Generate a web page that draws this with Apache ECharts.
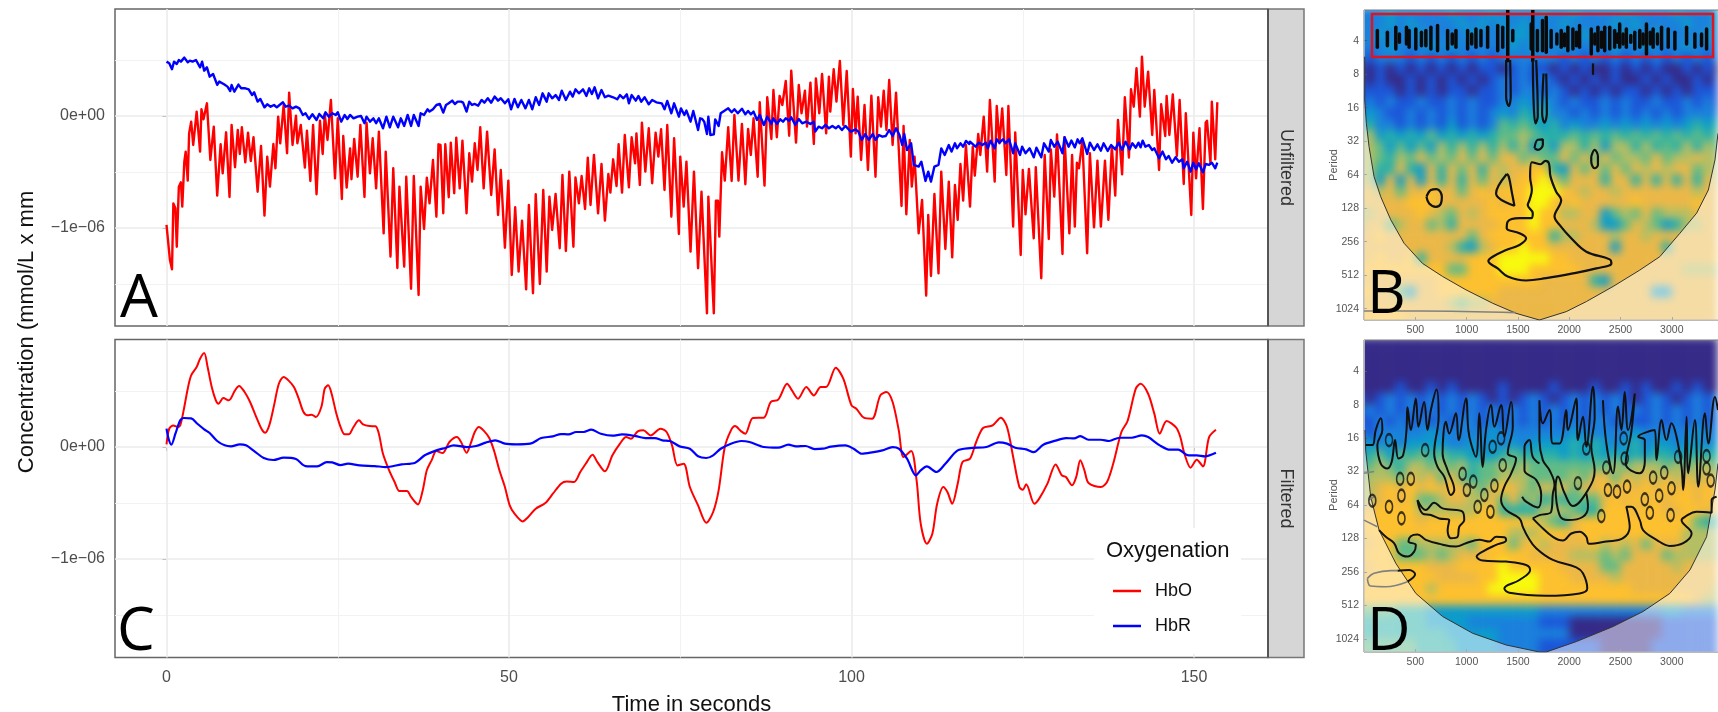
<!DOCTYPE html>
<html><head><meta charset="utf-8">
<style>
html,body{margin:0;padding:0;background:#fff;width:1718px;height:712px;overflow:hidden}
.clip{position:absolute;overflow:hidden}
.heat{position:absolute;left:-1364px;width:1718px;height:712px;filter:blur(4px)}
#main{position:absolute;left:0;top:0;width:1718px;height:712px}
</style>
<script src="https://cdn.jsdelivr.net/npm/echarts@6/dist/echarts.min.js"></script>
</head><body>
<div class="clip" style="left:1364px;top:10px;width:354px;height:310px"><div class="heat" id="heatB" style="top:-10px"></div></div>
<div class="clip" style="left:1364px;top:340px;width:354px;height:312px"><div class="heat" id="heatD" style="top:-340px"></div></div>
<div id="main"></div>
<script>
// Concentrations in units of 1e-9 mmol/L x mm, time in seconds: [t, value]
const hboUnfiltered = [[0,-973],[0.2,-958],[0.5,-1286],[0.8,-1369],[1,-780],[1.3,-824],[1.5,-1167],[1.8,-631],[2.1,-592],[2.3,-809],[2.6,-408],[2.8,-318],[3.1,-577],[3.3,-155],[3.6,-51],[3.9,-259],[4.4,39],[4.9,-318],[5.1,60],[5.4,-30],[5.6,-21],[5.9,113],[6.4,-393],[6.9,-95],[7.4,-711],[7.9,-253],[8.2,-512],[8.7,-146],[9.2,-723],[9.5,-80],[10,-458],[10.4,-125],[10.7,-339],[11,-101],[11.5,-414],[11.9,-149],[12.3,-402],[12.7,-190],[13.3,-676],[13.8,-268],[14.3,-890],[14.7,-363],[15.1,-631],[15.6,-250],[15.9,-467],[16.3,-6],[16.6,-244],[17.1,98],[17.6,-333],[17.9,208],[18.4,-259],[18.9,3],[19.1,-244],[19.6,-80],[20.2,-461],[20.5,-131],[21,-580],[21.4,-80],[21.9,-699],[22.4,-42],[22.8,-339],[23.1,18],[23.5,-214],[24,143],[24.6,-557],[25,-21],[25.6,-741],[25.8,-179],[26.3,-640],[26.8,-289],[27,-565],[27.4,-205],[27.9,-542],[28.3,-80],[28.9,-723],[29.2,-60],[29.7,-512],[30.1,-199],[30.6,-646],[31,-140],[31.7,-1048],[32,-318],[32.7,-1256],[33.1,-467],[33.7,-1357],[34,-631],[34.7,-1345],[35,-542],[35.7,-1542],[36.1,-536],[36.8,-1598],[37.1,-631],[37.6,-1009],[38,-551],
[38.4,-780],[38.9,-393],[39.4,-899],[39.7,-253],[40,-259],[40.4,-869],[40.7,-253],[41.2,-726],[41.5,-238],[42,-690],[42.3,-193],[42.8,-646],[43.2,-220],[43.8,-869],[44.2,-333],[44.3,-318],[44.6,-586],[45,-244],[45.4,-482],[45.8,-101],[46.3,-646],[46.8,-140],[47.4,-705],[47.9,-298],[48.4,-884],[48.8,-482],[49.4,-1176],[49.9,-577],[50.4,-1420],[50.9,-815],[51.4,-1390],[51.9,-934],[52.5,-1548],[52.9,-795],[53.5,-1583],[53.9,-699],[54.1,-699],[54.5,-1500],[55,-661],[55.5,-1390],[55.9,-720],[56.3,-1018],[56.8,-696],[57.4,-1181],[57.8,-527],[58.3,-1205],[58.8,-497],[59.4,-1167],[59.7,-548],[60.2,-780],[60.6,-536],[61.1,-830],[61.5,-372],[61.9,-795],[62.4,-348],[63,-869],[63.5,-429],[64,-934],[64.5,-518],[64.8,-684],[65.2,-387],[65.7,-625],[66,-253],[66.5,-684],[66.9,-170],[67.5,-637],[67.9,-190],[68.4,-423],[68.6,-155],[69.1,-616],[69.4,-60],[69.9,-497],[70.4,-110],[70.9,-601],[71.4,-149],[71.8,-363],[72.2,-119],[72.7,-661],[73.1,-80],[73.7,-899],[74.1,-199],[74.8,-1054],[75,-363],[75.5,-809],[75.9,-408],[76.5,-1211],[77,-497],[77.6,-1360],
[78.1,-676],[78.9,-1762],[79.1,-720],[79.9,-1762],[80.2,-756],[80.5,-756],[80.7,-1077],[81.1,-324],[81.5,-577],[82,-101],[82.5,-580],[82.9,9],[83.5,-577],[84,-71],[84.5,-610],[84.9,-116],[85.3,-348],[85.7,-21],[86.3,-542],[86.6,122],[87.3,-622],[87.7,167],[87.9,167],[88.3,-205],[88.6,232],[89.1,-190],[89.5,179],[89.9,98],[90.4,312],[90.9,-176],[91.2,405],[91.9,-238],[92.3,277],[92.7,24],[93.2,226],[93.5,-95],[94,298],[94.5,-250],[94.8,336],[95.3,24],[95.7,375],[96.3,-155],[96.7,351],[96.9,39],[97.4,417],[97.8,128],[98.3,491],[98.8,-80],[99.3,402],[99.9,-363],[100.2,241],[100.6,-155],[100.9,173],[101.4,-393],[101.9,98],[102.4,-482],[102.9,182],[103.5,-542],[103.9,167],[104.3,-95],[104.7,226],[105.1,-125],[105.5,321],[106,-259],[106.5,208],[107.3,-804],[107.6,-89],[108,-878],[108.5,-214],[108.8,-631],[109.2,-363],[109.8,-1048],[110.3,-750],[110.9,-1604],[111.2,-884],[111.6,-1428],[112.1,-696],[112.7,-1405],[113.1,-497],[113.7,-1188],[114.2,-586],[114.7,-1262],[115.1,-616],[115.5,-928],[115.9,-429],[116.3,-756],[116.7,-259],[117.3,-809],
[117.7,-274],[118,-533],[118.5,-161],[118.8,-348],[119.3,-6],[119.8,-497],[120.2,143],[120.9,-586],[121.2,89],[121.6,-244],[122,68],[122.6,-527],[122.9,89],[123.6,-988],[123.9,-146],[124.7,-1241],[125,-482],[125.4,-878],[125.9,-473],[126.6,-1092],[126.9,-458],[127.7,-1449],[128.2,-348],[128.8,-1098],[129.1,-298],[129.6,-720],[130,-164],[130.8,-1232],[131.1,-190],[131.8,-1048],[132.2,-348],[132.6,-988],[132.9,-417],[133.2,-467],[133.7,-214],[134.4,-1226],[134.8,-333],[135.4,-994],[135.9,-399],[136.4,-988],[137,-399],[137.5,-928],[138,-274],[138.5,-711],[138.9,-36],[139.5,-521],[139.9,167],[140.5,-372],[140.8,238],[141.2,83],[141.6,426],[142.1,-6],[142.4,530],[142.8,83],[143.3,396],[143.9,-170],[144.2,232],[144.9,-482],[145.2,104],[145.8,-179],[146,179],[146.4,-170],[146.9,193],[147.5,-357],[147.9,143],[148.5,-607],[148.8,24],[149.6,-884],[149.9,-149],[150.3,-557],[150.8,-110],[151.3,-830],[151.7,-60],[151.9,-42],[152.4,-423],[152.6,128],[153.1,-387],[153.4,122]];
const hbrUnfiltered = [[0,485],[0.4,470],[0.8,417],[1.1,485],[1.5,464],[1.8,500],[2.1,485],[2.6,521],[3.1,479],[3.4,494],[3.8,485],[4.3,500],[4.9,434],[5.2,485],[5.5,405],[5.9,434],[6.3,351],[6.8,375],[7.4,277],[7.7,307],[8.4,283],[8.9,262],[9.3,223],[9.5,277],[9.9,217],[10.5,280],[10.9,247],[11.5,247],[12,238],[12.5,187],[12.8,211],[13.3,128],[13.7,152],[14.3,77],[14.7,104],[15.2,83],[15.7,98],[16.1,77],[16.5,98],[17,122],[17.4,83],[17.9,92],[18.4,68],[18.9,83],[19.4,68],[19.9,9],[20.3,24],[20.8,-27],[21.3,15],[21.9,-36],[22.3,18],[22.9,-21],[23.2,33],[23.7,-6],[24.2,24],[24.7,9],[25,33],[25.5,-51],[26,9],[26.4,-27],[26.8,9],[27.3,-21],[27.9,-6],[28.4,0],[28.9,-65],[29.2,-6],[29.7,-51],[30.2,-21],[30.6,-65],[31,-21],[31.6,-110],[32.1,-6],[32.6,-101],[33.1,-6],[33.8,-101],[34.2,-21],[34.7,-89],[35.2,9],[35.7,-89],[36.1,9],[36.8,-89],[37.1,24],[37.6,9],[38.1,60],
[38.4,39],[38.9,60],[39.4,98],[39.9,107],[40.4,30],[40.8,98],[41.2,113],[41.7,137],[42.1,107],[42.5,128],[43,128],[43.3,119],[43.8,39],[44.2,128],[44.6,98],[45,107],[45.5,92],[46,143],[46.4,119],[46.9,158],[47.4,119],[47.9,173],[48.4,137],[48.8,158],[49.4,113],[49.9,149],[50.3,60],[50.8,152],[51.3,77],[51.8,143],[52.4,68],[52.9,143],[53.4,60],[53.9,167],[54.4,98],[54.9,202],[55.5,128],[55.8,202],[56.3,158],[56.8,187],[57.3,143],[57.7,226],[58.3,143],[58.9,217],[59.3,173],[59.7,238],[60.2,202],[60.8,238],[61.3,179],[61.7,247],[62.1,196],[62.5,256],[63,158],[63.5,232],[64,167],[64.5,182],[65.2,167],[65.8,149],[66.2,187],[66.7,158],[67.2,193],[67.5,113],[67.9,187],[68.5,137],[68.9,179],[69.3,128],[69.8,167],[70.4,104],[70.9,143],[71.5,122],[72.3,113],[72.7,60],[73.1,134],[73.7,24],[74.1,113],[74.8,-6],[75.1,68],[75.6,9],[75.9,48],[76.5,-51],[76.9,45],[77.6,-125],
[77.9,-21],[78.2,-27],[78.5,-51],[78.9,-161],[79.1,-6],[79.4,-170],[79.9,-164],[80.1,-30],[80.6,-89],[80.9,24],[81.4,45],[82,68],[82.5,33],[82.9,60],[83.4,24],[84,65],[84.5,15],[84.9,45],[85.3,15],[85.7,39],[86.2,-36],[86.6,9],[87.2,-80],[87.7,-6],[88.3,-71],[88.6,-21],[89.1,-71],[89.6,-30],[90,-51],[90.4,-21],[90.9,-42],[91.2,-12],[91.8,-80],[92.3,-27],[92.8,-65],[93.4,-51],[94,-71],[94.5,-51],[94.7,-140],[95.2,-95],[95.7,-110],[96.2,-80],[96.7,-110],[97.2,-89],[97.7,-110],[98.1,-89],[98.6,-125],[99.1,-89],[99.9,-140],[100.6,-119],[101,-140],[101.5,-214],[102,-161],[102.5,-214],[103.1,-161],[103.5,-214],[104,-170],[104.5,-185],[105,-179],[105.5,-125],[106,-179],[106.5,-110],[107,-170],[107.4,-259],[107.7,-161],[108.1,-304],[108.7,-244],[109.1,-437],[109.8,-452],[110.2,-408],[110.8,-580],[111.2,-497],[111.6,-586],[112.1,-452],[112.7,-437],[113.1,-289],[113.6,-348],[114.2,-259],[114.6,-318],[115.1,-244],[115.4,-289],[115.9,-244],[116.3,-274],[116.7,-223],
[117.2,-250],[117.3,-229],[118.1,-274],[118.6,-238],[119.1,-259],[119.6,-238],[119.9,-289],[120.3,-220],[120.9,-289],[121.2,-208],[121.6,-238],[122.1,-208],[122.5,-244],[123,-208],[123.6,-333],[123.9,-244],[124.6,-348],[124.9,-274],[125.4,-333],[126,-289],[126.6,-369],[127,-283],[127.7,-369],[128.1,-244],[128.8,-318],[129.1,-214],[129.6,-274],[130.1,-229],[130.8,-333],[131.1,-190],[131.7,-274],[132.1,-220],[132.6,-280],[133,-208],[133.3,-244],[133.7,-199],[134.4,-339],[134.8,-238],[135.4,-304],[135.9,-253],[136.4,-310],[136.8,-244],[137.4,-312],[137.9,-259],[138.5,-298],[139,-238],[139.5,-304],[140,-229],[140.6,-298],[141,-244],[141.5,-283],[141.9,-238],[142.2,-280],[142.5,-220],[142.9,-274],[143.4,-259],[143.9,-304],[144.2,-289],[144.9,-378],[145.4,-318],[145.9,-387],[146.3,-357],[146.8,-417],[147.3,-369],[147.8,-408],[148.3,-387],[148.5,-467],[149,-408],[149.5,-497],[149.9,-417],[150.3,-476],[150.7,-423],[151.3,-503],[151.7,-429],[152.2,-437],[152.6,-417],[153.1,-467],[153.4,-417]];
const hboFiltered = [[0,24],[0.4,164],[1,193],[1.6,179],[2,193],[2.5,327],[3.1,521],[3.6,640],[4.4,714],[4.9,789],[5.5,839],[6,714],[6.6,536],[7.2,417],[7.6,387],[8.3,437],[9.1,417],[10,506],[10.6,545],[11.4,491],[12.2,402],[13,283],[13.9,158],[14.4,128],[15,193],[15.7,372],[16.4,565],[17.1,625],[17.8,595],[18.6,536],[19.3,432],[20,312],[20.6,283],[21.2,289],[21.8,268],[22.6,357],[23.1,521],[23.6,551],[24.1,476],[24.8,298],[25.5,164],[26,113],[26.6,113],[27.3,179],[28.1,238],[28.7,202],[29.6,187],[30.5,185],[31,119],[31.6,-60],[32.5,-208],[33.3,-312],[34,-393],[35.1,-393],[35.7,-446],[36.7,-512],[37.4,-387],[38,-208],[38.7,-119],[39.4,-36],[40.3,-54],[41.3,45],[42.4,89],[43,45],[43.8,-51],[44.4,30],[45,134],[45.6,179],[46.4,140],[47.1,83],[47.8,-30],[48.6,-208],[49.4,-357],[50.1,-521],[50.8,-595],[52,-664],[52.8,-625],[53.9,-551],[55.3,-500],[56.4,-417],[57.6,-327],[58.4,-307],[59.5,-312],[60.4,-223],[61.2,-149],[62.2,-68],[62.9,-134],[64,-217],[65.1,-74],[66.2,30],[67.1,89],[67.8,74],[68.8,140],[69.6,149],[70.7,104],[72.1,164],[73,134],[73.8,15],[74.6,-164],[75.5,-149],[76.4,-357],[77.6,-521],[78.8,-676],[79.8,-580],[80.6,-387],[81.5,0],[82.4,149],[83,187],[83.9,140],[84.5,119],[85.6,259],[87.2,262],[88.2,402],[89.3,423],[90.6,565],[91.3,506],[92.2,432],[93.4,536],[94.5,461],[95.5,536],[96.3,536],[97.7,708],[98.8,610],[100,372],[100.7,342],[101.8,262],[103,253],[104.2,461],[105.1,491],[106,402],[106.9,149],[107.6,-89],[108.7,-36],[109.5,-298],[110.1,-684],[111,-863],[111.8,-774],[112.5,-506],[113.4,-357],[114,-402],[114.7,-506],[115.5,-327],[116.2,-134],[117.3,-104],[118.2,45],[119.2,170],[120.6,193],[121.8,262],[122.7,179],[123.6,-89],[124.5,-357],[125,-381],[125.5,-333],[126.7,-506],[127.4,-461],[128.6,-327],[129.8,-155],[130.7,-253],[131.3,-268],[132.2,-342],[132.8,-268],[133.4,-119],[134,-208],[134.6,-321],[136.4,-357],[137.3,-312],[138.2,-149],[139.4,134],[140.3,232],[141.5,521],[142.2,565],[143.3,476],[144.2,298],[145,119],[146,232],[147.4,173],[148,89],[148.6,-60],[149.5,-185],[150.4,-113],[151.3,-173],[152.2,89],[153.2,155]];
const hbrFiltered = [[0,164],[0.3,74],[0.7,21],[1.3,119],[2,238],[2.5,259],[3.6,256],[4.5,208],[5.5,158],[6.3,125],[7.4,54],[8.5,15],[9.4,6],[10.7,24],[11.6,15],[12.8,-36],[14.2,-98],[15.6,-116],[17.1,-95],[18.9,-107],[20.3,-170],[22,-173],[23.4,-134],[24.2,-137],[25.4,-161],[26.5,-149],[28.2,-164],[30.4,-170],[32,-179],[34.3,-155],[36.3,-140],[37.7,-74],[39.4,-30],[40.8,-6],[41.9,15],[43.8,0],[45.2,9],[46.6,39],[48,60],[49.4,30],[51.1,24],[53.1,30],[54.7,80],[56.4,95],[57.6,116],[58.7,113],[59.8,134],[60.9,134],[62,155],[63.4,119],[65.1,101],[66.5,113],[68.5,98],[69.9,80],[71.3,80],[72.4,60],[73.5,54],[74.9,6],[76.4,-15],[77.6,-83],[78.8,-98],[79.8,-74],[80.9,-15],[82.4,30],[83.9,54],[85.1,45],[87.2,0],[89.3,-6],[90.8,21],[91.9,6],[93.3,9],[94.6,-18],[95.8,-15],[97,3],[99.1,15],[100.3,-15],[101.5,-60],[103,-48],[104.5,-30],[106,0],[106.9,-15],[108.1,-104],[109.4,-253],[110.1,-208],[111,-173],[112.4,-223],[113.7,-149],[115.5,-30],[117.3,-9],[119.7,0],[121.5,42],[122.7,30],[123.9,-6],[125.5,-21],[126.6,-45],[128,21],[129.8,57],[131.3,80],[132.5,77],[133.4,98],[134.6,65],[136.4,65],[137.6,54],[139.1,83],[140.9,83],[142.4,104],[143.3,89],[145,15],[146.5,-24],[147.7,-24],[149.2,-74],[150.4,-74],[151.6,-83],[153.2,-51]];

const xTicks = [0,50,100,150], xMinor = [25,75,125];
const yTicks = [-1000,0], yMinor = [-1500,-500,500];
const waveXTicks = [500,1000,1500,2000,2500,3000];
const wavePeriodTicks = [2,3,4,5,6,7,8,9,10]; // log2(period)
const parula = ['#352A87','#1B55D8','#1A80DC','#0C9BCB','#29B0A8','#62BB85','#B4BE62','#EBB848','#FDC02E','#F8FA0D'];

// Wavelet power, level 0-9, 36 time columns x 29 period rows (third-octave)
const powerB = [
"222322 222322 232222 322322 223222 232223",
"222323 222232 323232 223222 232322 223223",
"223222 322223 222332 322232 223223 222232",
"222322 232322 222323 223222 232232 223222",
"212221 212121 212222 221212 121212 121212",
"101010 101010 110121 101010 010101 001010",
"101001 010101 012121 210101 010010 100101",
"111101 010110 112122 121010 101101 010111",
"121211 211212 112232 321211 212112 112121",
"232112 121212 123243 422121 212121 212222",
"342212 121312 125454 342322 323232 323434",
"563434 353434 345565 444545 454545 454545",
"665353 536464 646463 536646 366464 546465",
"665465 756575 757756 557575 756657 566766",
"664474 374757 476778 843757 575767 677566",
"663737 374747 576788 975777 477474 747476",
"776757 787757 878889 998767 767777 777677",
"777778 887777 787889 987877 777877 777877",
"667777 876576 788889 886677 356575 666777",
"677567 756477 778889 887776 335765 346677",
"778777 777775 788888 846677 767767 777777",
"777777 777643 678898 877777 737777 477777",
"778778 477778 889999 988777 777777 777778",
"888888 888558 889998 888877 777777 776666",
"777777 778888 888888 777774 377777 777777",
"887753 778888 887777 777777 777773 377777",
"777777 777656 677777 777777 777777 777777",
"888887 777777 777777 777777 777777 777777",
"888887 777777 777777 777777 777777 777777"];
const powerD = [
"000000 000000 000000 000000 000000 000000",
"000000 000000 000000 000000 000000 000000",
"000000 000000 000000 000000 000000 000000",
"000000 000000 000000 000000 000000 000000",
"000010 010100 001000 010001 001010 010100",
"101212 121212 101012 101212 121012 101212",
"121212 121212 121212 121212 121212 121212",
"112121 212122 121212 121212 212112 121212",
"212222 232222 232222 222322 222322 222322",
"232323 333223 232323 333434 323423 323323",
"345354 545443 334544 443434 343434 434444",
"456546 656564 556565 555555 565666 565665",
"566657 675754 556665 555657 757676 767676",
"667878 787876 578765 767577 878787 878787",
"667878 556776 675756 454555 787878 788787",
"778888 666666 884444 666544 888788 778878",
"888888 788888 888888 654788 888888 888544",
"788888 888888 888666 888788 888888 886666",
"778855 666665 888578 677778 676757 776666",
"788855 565677 788887 777666 565777 566666",
"778888 877788 889888 887777 557777 767777",
"788888 887777 889999 888777 767777 777777",
"788888 868888 899999 888888 888777 777776",
"888888 888888 888888 888888 888888 888766",
"555544 433333 333333 222222 222222 332222",
"444444 433332 222222 111000 000000 111111",
"444444 444333 332222 222000 000000 111111",
"555555 444433 332222 111111 000001 111111",
"555555 444433 332222 111111 000001 111111"];

// Cone of influence: [time, log2(period)]
const coiB = [[7,2.48],[7,3.77],[23,4.47],[49,5.16],[98,6.06],[163,6.66],[261,7.35],[391,8.05],[570,8.65],[766,9.04],[994,9.44],[1254,9.84],[1482,10.14],[1710,10.34],[1971,10.09],[2167,9.79],[2427,9.34],[2688,8.85],[2883,8.45],[3079,7.75],[3242,7.15],[3356,6.46],[3421,5.56],[3450,4.77]];
const coiD = [[10,3.76],[16,4.36],[65,5.75],[147,6.75],[310,7.74],[505,8.64],[766,9.33],[1059,9.83],[1385,10.18],[1710,10.39],[1776,10.39],[2069,10.08],[2427,9.63],[2720,9.18],[2981,8.64],[3177,7.94],[3339,6.95],[3421,5.55],[3450,4.76]];

// Significance contours: [time, log2(period)]
const contoursB = [
[[1678,5.66],[1636,5.63],[1619,6.06],[1636,6.46],[1613,6.76],[1596,6.91],[1645,7.15],[1629,7.3],[1515,7.3],[1401,7.4],[1391,7.6],[1515,7.75],[1580,7.9],[1515,8.1],[1385,8.25],[1254,8.45],[1212,8.58],[1303,8.8],[1401,9.04],[1580,9.16],[1776,9.09],[2036,8.95],[2264,8.8],[2411,8.65],[2395,8.53],[2167,8.3],[2020,7.9],[1906,7.5],[1857,7.25],[1922,6.76],[1873,6.51],[1818,6.06],[1802,5.66],[1769,5.59],[1720,5.69],[1678,5.66]],
[[1391,5.98],[1287,6.56],[1466,6.93],[1443,6.56],[1411,6.06],[1391,5.98]],
[[609,6.66],[652,6.46],[707,6.43],[759,6.66],[750,6.86],[700,6.96],[635,6.86],[609,6.66]],
[[2215,5.46],[2248,5.26],[2280,5.46],[2280,5.71],[2248,5.81],[2215,5.61],[2215,5.46]],
[[1662,5.21],[1694,4.96],[1743,4.95],[1743,5.11],[1694,5.26],[1662,5.21]],
[[1385,2.58],[1385,3.67],[1411,3.95],[1430,3.67],[1424,2.58]],
[[1645,2.58],[1655,3.97],[1672,4.47],[1694,4.24],[1678,2.58]],
[[1750,2.98],[1736,4.17],[1759,4.45],[1782,4.17],[1776,2.98]],
[[2232,2.68],[2232,3.02]]];
const greyContoursB = [[[0,10.07],[538,10.07],[1482,10.12]]];
// Short dark blobs of the high-frequency band in panel B: [time, top, bottom]
const blobsB = [[130,1.7,2.2],[228,1.75,2.15],[310,1.6,2.25],[345,1.8,2.05],[414,1.6,2.1],[440,1.7,2.2],[505,1.65,2.25],[560,1.75,2.15],[603,1.7,2.15],[652,1.6,2.25],[717,1.55,2.3],[815,1.7,2.25],[860,1.8,2.1],[896,1.7,2.2],[1010,1.7,2.25],[1050,1.8,2.1],[1091,1.65,2.2],[1140,1.7,2.15],[1205,1.6,2.2],[1303,1.55,2.3],[1352,1.6,2.2],[1401,1.1,2.6],[1450,1.7,2.0],[1630,1.5,2.25],[1645,1.1,2.6],[1690,1.7,2.3],[1740,1.4,2.3],[1776,1.3,2.35],[1824,1.7,2.2],[1880,1.8,2.1],[1922,1.7,2.2],[1955,1.8,2.15],[1987,1.6,2.3],[2036,1.65,2.25],[2070,1.75,2.15],[2101,1.55,2.2],[2215,1.65,2.4],[2250,1.8,2.1],[2280,1.6,2.3],[2315,1.75,2.2],[2346,1.6,2.3],[2395,1.6,2.25],[2443,1.7,2.2],[2470,1.8,2.05],[2492,1.5,2.2],[2525,1.8,2.1],[2557,1.65,2.2],[2600,1.85,2.05],[2639,1.75,2.25],[2688,1.7,2.2],[2720,1.8,2.1],[2753,1.5,2.4],[2790,1.75,2.1],[2818,1.65,2.2],[2860,1.8,2.1],[2900,1.6,2.25],[2965,1.65,2.2],[3030,1.75,2.25],[3144,1.6,2.1],[3225,1.8,2.2],[3290,1.8,2.15],[3339,1.65,2.25]];

const contoursD = [
[[16,4.21],[81,4.21],[114,3.76],[163,3.41],[179,3.76],[130,4.21],[163,4.76],[228,4.91],[270,4.71],[303,4.06],[336,4.61],[381,4.51],[414,3.76],[424,3.08],[456,3.76],[505,2.82],[531,3.66],[586,2.92],[619,3.76],[652,3.16],[707,2.55],[727,3.36],[684,4.46],[717,4.86],[782,5.15],[847,5.7],[880,5.55],[815,4.96],[766,4.46],[798,3.51],[831,3.86],[896,3.26],[922,4.06],[994,2.82],[1017,3.76],[1043,4.16],[1091,4.56],[1124,3.26],[1157,4.86],[1189,3.76],[1238,3.01],[1271,3.66],[1336,3.01],[1368,3.96],[1434,2.92],[1450,3.66],[1401,4.46],[1482,4.61],[1434,5.06],[1368,5.45],[1336,5.85],[1385,6.15],[1515,6.4],[1548,6.65],[1596,6.95],[1678,7.29],[1841,7.64],[2069,7.86],[2134,8.04],[2176,8.49],[2101,8.64],[1776,8.71],[1417,8.62],[1368,8.49],[1515,8.24],[1619,7.94],[1580,7.79],[1385,7.69],[1157,7.66],[1098,7.54],[1157,7.39],[1287,7.19],[1385,7.06],[1368,6.96],[1287,6.95],[1222,7.09],[1124,7.04],[994,7.14],[896,7.24],[733,7.16],[603,7.04],[521,6.88],[456,6.93],[433,7.09],[505,7.19],[489,7.39],[424,7.54],[342,7.44],[293,7.14],[212,6.95],[147,6.75]],
[[1645,6.4],[1710,6.3],[1824,6.2],[1841,5.65],[1857,5.4],[1808,4.96],[1743,4.66],[1710,4.06],[1710,2.87],[1743,3.56],[1808,3.16],[1841,4.16],[1906,4.16],[1971,3.16],[1987,3.76],[2069,2.82],[2085,4.06],[2134,3.36],[2167,4.26],[2232,2.47],[2248,3.36],[2215,4.26],[2248,4.96],[2183,5.55],[2036,6.03],[1955,5.65],[1890,5.15],[1867,5.45],[1906,6.3],[1987,6.45],[2134,6.35],[2183,6.05],[2167,5.65]],
[[1541,5.75],[1580,5.9],[1694,6.07],[1727,5.7],[1678,5.25],[1564,4.96],[1564,4.26],[1613,4.06],[1645,4.56],[1710,4.76]],
[[1645,6.4],[1710,6.6],[1841,6.95],[1939,7.06],[2020,6.85],[2101,6.8],[2167,6.95],[2193,7.16],[2362,7.09],[2525,6.99],[2590,6.65],[2574,6.3],[2557,6.05],[2606,6.05],[2688,6.45],[2720,6.75],[2851,7.04],[2981,7.22],[3111,7.14],[3193,6.85],[3095,6.45],[3128,6.35],[3242,6.2],[3388,6.23],[3388,5.85],[3437,5.75]],
[[2329,2.87],[2362,4.16],[2427,5.05],[2476,3.06],[2509,3.76],[2541,2.62],[2574,3.76],[2639,2.67],[2606,3.81],[2551,4.76],[2688,5.05],[2737,4.71],[2737,4.06],[2672,3.96],[2834,3.76],[2851,4.66],[2900,3.46],[2948,4.06],[2997,3.56],[3046,3.96],[3095,4.86],[3111,5.55],[3144,3.36],[3160,5.05],[3225,3.46],[3258,5.45],[3323,3.26],[3356,4.16],[3421,2.77],[3450,3.16]],
[[521,5.85],[603,6.15],[684,5.93],[766,6.1],[961,6.2],[977,6.45],[928,6.65],[912,6.95],[847,6.99],[815,6.75],[831,6.45],[733,6.4],[652,6.3],[570,6.25],[521,5.85]],
[[326,7.96],[440,7.94],[498,8.07],[424,8.29]]];
const greyContoursD = [[[33,8.19],[98,8.04],[261,7.96],[326,7.96]],[[424,8.29],[212,8.44],[65,8.42],[33,8.19]],[[0,6.45],[130,6.65]],[[0,5.05],[98,5.0]],[[49,5.85],[98,5.75]]];
const islandsD = [[352,5.22],[456,5.22],[365,5.72],[244,6.05],[365,6.4],[961,5.07],[1003,5.55],[1065,5.3],[1271,5.42],[1352,4.81],[1232,6.2],[1108,6.05],[1173,5.7],[81,5.87],[2378,5.55],[2466,5.6],[2564,5.45],[2737,5.83],[2877,5.72],[2997,5.5],[2818,5.18],[2926,5.03],[2786,6.23],[2988,6.3],[2362,4.88],[2541,4.61],[3062,4.56],[3339,4.54],[3339,4.91],[3379,5.27],[2085,5.35],[2167,4.31],[1254,4.26],[1336,4.01],[596,4.36],[244,4.06],[2531,4.01],[2313,6.33]];

const FONT = '"Liberation Sans", Arial, sans-serif';
const RED = '#FF0000', BLUE = '#0000FF';

function heatChart(id, rows, top){
  const cols = rows[0].replace(/ /g,'').length;
  const data = [];
  rows.forEach((r,i)=>{ r.replace(/ /g,'').split('').forEach((c,j)=>data.push([j,i,+c])); });
  const xc = Array.from({length:cols},(_,j)=>String(j*100-50));
  const yc = rows.map((_,i)=>String(i));
  const c = echarts.init(document.getElementById(id),null,{renderer:'canvas'});
  c.setOption({animation:false,
    grid:{left:1354.8,top:top,width:368.3,height:rows.length*11.17,show:false,outerBoundsMode:'none'},
    xAxis:{type:'category',data:xc,show:false},
    yAxis:{type:'category',data:yc,show:false,inverse:true},
    visualMap:{show:false,min:0,max:9,dimension:2,inRange:{color:parula}},
    series:[{type:'heatmap',data:data,itemStyle:{borderWidth:0},emphasis:{disabled:true},silent:true,progressive:0}]
  });
}
heatChart('heatB',powerB,7.2);
heatChart('heatD',powerD,337.5);

const axisLabelStyle = {color:'#4D4D4D',fontSize:16,fontFamily:FONT};
function lineAxisX(idx,showLabels){
  return {type:'value',gridIndex:idx,min:-7.52,max:160.8,splitLine:{show:false},axisLine:{show:false},
    axisTick:{show:showLabels,customValues:xTicks,length:4,lineStyle:{color:'#444',width:1}},
    axisLabel:{show:showLabels,customValues:xTicks,margin:12,...axisLabelStyle},
    ...(showLabels?{name:'Time in seconds',nameLocation:'middle',nameGap:36,nameTextStyle:{color:'#111',fontSize:22,fontFamily:FONT}}:{})};
}
function lineAxisY(idx,min,max){
  return {type:'value',gridIndex:idx,min:min,max:max,splitLine:{show:false},axisLine:{show:false},
    axisTick:{show:true,customValues:yTicks,length:4,lineStyle:{color:'#444',width:1}},
    axisLabel:{customValues:yTicks,margin:10,...axisLabelStyle,formatter:v=>v===0?'0e+00':'\u22121e\u221206'}};
}
function waveAxisX(idx){
  return {type:'value',gridIndex:idx,min:0,max:3460,splitLine:{show:false},axisLine:{show:false},
    axisTick:{show:true,customValues:waveXTicks,inside:true,length:3,lineStyle:{color:'#555'}},
    axisLabel:{customValues:waveXTicks,margin:5,color:'#555',fontSize:10.5,fontFamily:FONT,formatter:v=>String(v)}};
}
function waveAxisY(idx,min,max){
  return {type:'value',gridIndex:idx,inverse:true,min:min,max:max,splitLine:{show:false},axisLine:{show:false},
    axisTick:{show:true,customValues:wavePeriodTicks,inside:true,length:3,lineStyle:{color:'#555'}},
    axisLabel:{customValues:wavePeriodTicks,margin:5,color:'#555',fontSize:10.5,fontFamily:FONT,formatter:v=>String(Math.round(Math.pow(2,v)))}};
}
function gridHelper(idx){
  const ml = (vals,key,color,width)=>vals.map(v=>({[key]:v,lineStyle:{color,width,type:'solid'}}));
  return {type:'line',xAxisIndex:idx,yAxisIndex:idx,data:[],silent:true,z:1,
    markLine:{silent:true,symbol:'none',label:{show:false},z:1,animation:false,
      data:[...ml(yMinor,'yAxis','#F2F2F2',1),...ml(xMinor,'xAxis','#F2F2F2',1),
            ...ml(yTicks,'yAxis','#EBEBEB',1.6),...ml(xTicks,'xAxis','#EBEBEB',1.6)]}};
}
function sig(name,data,idx,color,width,smooth){
  return {type:'line',name,data,xAxisIndex:idx,yAxisIndex:idx,showSymbol:false,symbol:'none',smooth:smooth?0.3:false,
    lineStyle:{color,width,join:'round'},itemStyle:{color},z:3,silent:true};
}
function wash(idx,coi,yTop,yBottom){
  return {type:'custom',xAxisIndex:idx,yAxisIndex:idx,data:[0],silent:true,z:2,clip:true,
    renderItem:(p,api)=>{
      const pts=[[0,yBottom],[0,yTop],[coi[0][0],yTop],...coi,[3460,coi[coi.length-1][1]],[3460,yBottom]].map(q=>api.coord(q));
      return {type:'polygon',shape:{points:pts},style:{fill:'rgba(255,255,255,0.5)',stroke:null}};
    }};
}
function path(data,idx,color,width,smooth,z){
  return {type:'line',data,xAxisIndex:idx,yAxisIndex:idx,showSymbol:false,symbol:'none',smooth:smooth?0.4:false,
    lineStyle:{color,width},z:z||5,silent:true};
}
const series = [
  gridHelper(0),gridHelper(1),
  sig('HbO',hboUnfiltered,0,RED,2.4),sig('HbR',hbrUnfiltered,0,BLUE,2.4),
  sig('HbO',hboFiltered,1,RED,2,true),sig('HbR',hbrFiltered,1,BLUE,2.2,true),
  wash(2,coiB,1.085,10.34),wash(3,coiD,1.07,10.39),
  path(coiB,2,'#333',1,false,4),path(coiD,3,'#333',1,false,4),
  ...contoursB.map(d=>path(d,2,'#111',2.2,true)),
  ...greyContoursB.map(d=>path(d,2,'#808080',1.6,true)),
  ...contoursD.map(d=>path(d,3,'#111',2,true)),
  ...greyContoursD.map(d=>path(d,3,'#808080',1.6,true)),
  {type:'custom',xAxisIndex:2,yAxisIndex:2,data:blobsB,z:5,silent:true,clip:true,
    encode:{x:0,y:[1,2]},
    renderItem:(p,api)=>{const a=api.coord([api.value(0),api.value(1)]),b=api.coord([api.value(0),api.value(2)]);
      return {type:'line',shape:{x1:a[0],y1:a[1],x2:b[0],y2:b[1]},style:{stroke:'#0A0A0A',lineWidth:3.5,lineCap:'round'}};}},
  {type:'scatter',xAxisIndex:3,yAxisIndex:3,data:islandsD,symbol:'circle',symbolSize:[7,12],silent:true,z:5,
    itemStyle:{color:'rgba(0,0,0,0)',borderColor:'#111',borderWidth:2}}
];
const letter=(t,x,y)=>({type:'text',z:20,x,y,style:{text:t,fill:'#000',font:'60px "Open Sans", sans-serif',textAlign:'left',textVerticalAlign:'middle'}});
const strip=(y,h,t)=>[
  {type:'rect',z:6,shape:{x:1268,y,width:36,height:h},style:{fill:'#D6D6D6',stroke:'#777',lineWidth:1.5}},
  {type:'line',z:7,shape:{x1:1268,y1:y,x2:1268,y2:y+h},style:{stroke:'#555',lineWidth:2}},
  {type:'text',z:7,x:1286,y:y+h/2,rotation:-Math.PI/2,style:{text:t,fill:'#333',font:'18px '+FONT,textAlign:'center',textVerticalAlign:'middle'}}];
const chart = echarts.init(document.getElementById('main'),null,{renderer:'canvas'});
const gridBase={outerBoundsMode:'none',show:true};
chart.setOption({animation:false,backgroundColor:'transparent',
  grid:[
    {...gridBase,left:115,top:9,width:1153,height:317,borderColor:'#666',borderWidth:1.5,backgroundColor:'#fff'},
    {...gridBase,left:115,top:339.5,width:1153,height:318,borderColor:'#666',borderWidth:1.5,backgroundColor:'#fff'},
    {...gridBase,left:1364,top:10,width:355,height:310,borderColor:'#777',borderWidth:1,backgroundColor:'transparent'},
    {...gridBase,left:1364,top:340,width:355,height:312,borderColor:'#777',borderWidth:1,backgroundColor:'transparent'}],
  xAxis:[lineAxisX(0,false),lineAxisX(1,true),waveAxisX(2),waveAxisX(3)],
  yAxis:[lineAxisY(0,-1875,955),lineAxisY(1,-1879,960),waveAxisY(2,1.085,10.34),waveAxisY(3,1.07,10.39)],
  legend:{data:['HbO','HbR'],orient:'vertical',left:1108,top:577,icon:'rect',itemWidth:28,itemHeight:2.5,itemGap:17,z:8,selectedMode:false,
    textStyle:{color:'#111',fontSize:18,fontFamily:FONT,padding:[0,0,0,9]}},
  series,
  graphic:{elements:[
    {type:'rect',z:3,shape:{x:1094,y:528,width:147,height:126},style:{fill:'#fff'}},
    {type:'text',z:8,x:1106,y:551,style:{text:'Oxygenation',fill:'#111',font:'22px '+FONT,textVerticalAlign:'middle'}},
    {type:'text',z:8,x:27,y:332,rotation:Math.PI/2,style:{text:'Concentration (mmol/L x mm',fill:'#111',font:'22px '+FONT,textAlign:'center',textVerticalAlign:'middle'}},
    ...strip(9,317,'Unfiltered'),...strip(339.5,318,'Filtered'),
    {type:'text',z:8,x:1334,y:165,rotation:Math.PI/2,style:{text:'Period',fill:'#555',font:'11px '+FONT,textAlign:'center',textVerticalAlign:'middle'}},
    {type:'text',z:8,x:1334,y:495,rotation:Math.PI/2,style:{text:'Period',fill:'#555',font:'11px '+FONT,textAlign:'center',textVerticalAlign:'middle'}},
    {type:'rect',z:9,shape:{x:1372,y:14,width:341,height:43},style:{fill:'transparent',stroke:'#E0141E',lineWidth:2.5}},
    letter('A',120,300),letter('B',1367,296),letter('C',117,633),letter('D',1367,633)
  ]}
});
</script>
</body></html>
